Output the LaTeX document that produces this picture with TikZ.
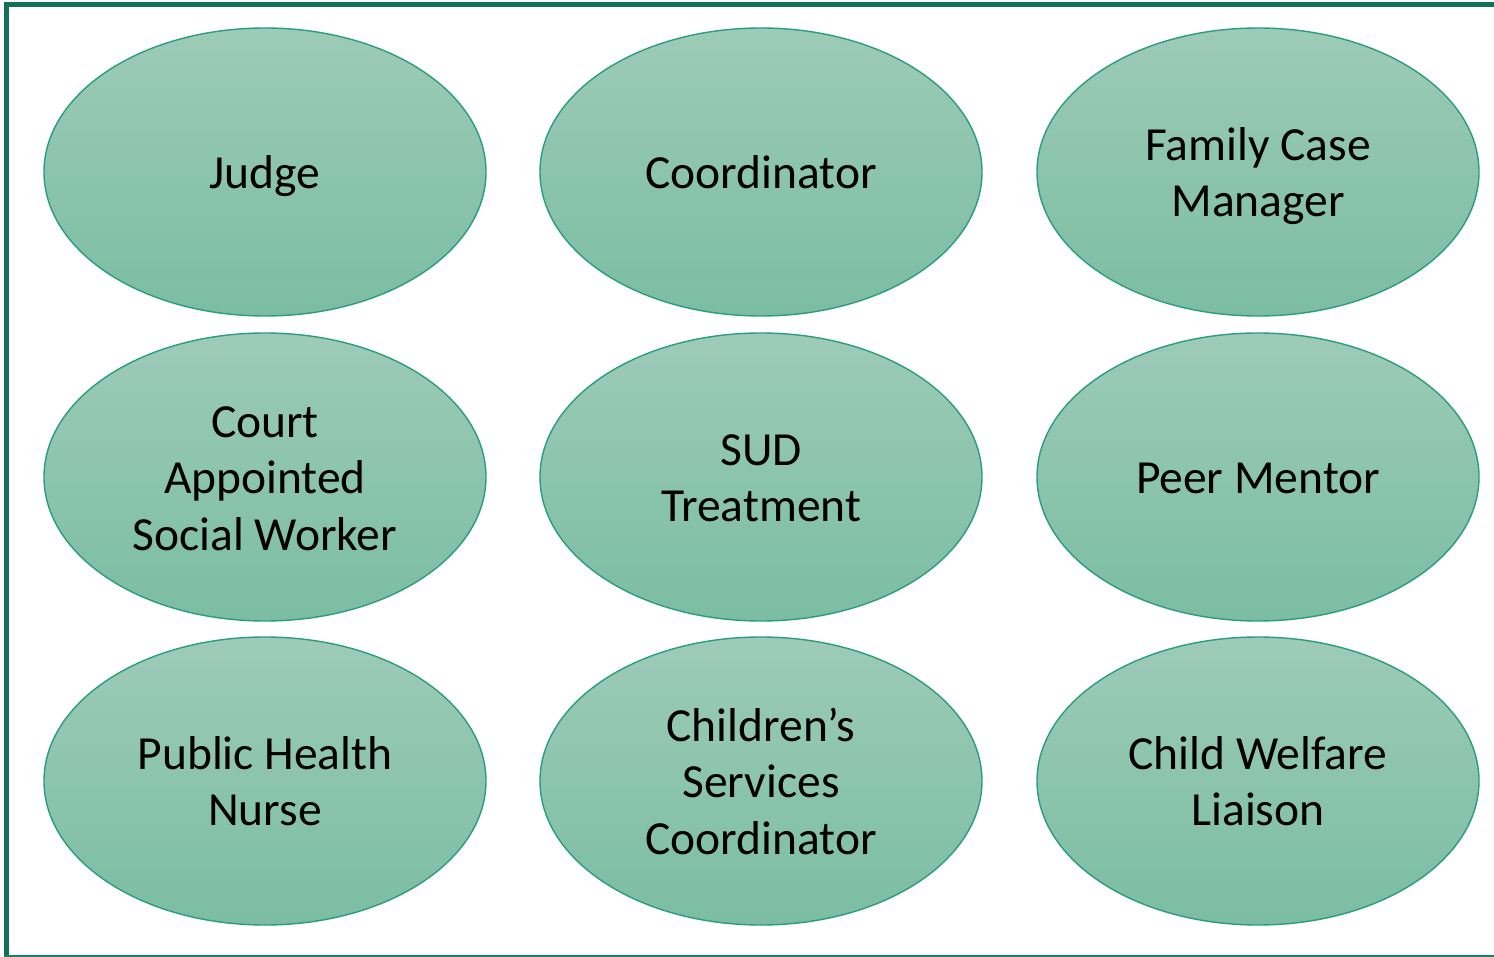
\documentclass[tikz,border=0pt]{standalone}
\usepackage{fontspec}
\setmainfont{Carlito}
\usetikzlibrary{shapes.geometric}
\definecolor{framegreen}{HTML}{137157}
\definecolor{edgegreen}{HTML}{2A9D7C}
\definecolor{toplight}{HTML}{9DCBB8}
\definecolor{bottomdark}{HTML}{7BBDA3}
% strut so every line box is as tall as the slide's
\newcommand{\ls}{\rule[-0.2em]{0pt}{1.1em}}
\tikzset{
  role/.style={ellipse, draw=edgegreen, line width=0.7pt,
    top color=toplight, bottom color=bottomdark,
    minimum width=221pt, minimum height=144pt, inner sep=0pt,
    align=center, font=\fontsize{23.75}{28.25}\selectfont},
}
\begin{document}
\begin{tikzpicture}[x=0.5pt, y=-0.5pt]
  \useasboundingbox (0,0) rectangle (1494,957);

  \draw[framegreen, line width=2.5pt] (6.5,957) -- (6.5,4.5) -- (1494,4.5);
  \draw[edgegreen!80!black, line width=1pt] (4,955.5) -- (1494,955.5);

  \node[role] (judge) at (265,172) {\ls Judge\ls};
  \node[role] (coord) at (761,172) {\ls Coordinator\ls};
  \node[role] (fcm) at (1258,172) {\ls Family Case\\Manager\ls};

  \node[role] (casw) at (265,477) {\ls Court\\Appointed\\Social Worker\ls};
  \node[role] (sud) at (761,477) {\ls SUD\\Treatment\ls};
  \node[role] (peer) at (1258,477) {\ls Peer Mentor\ls};

  \node[role] (phn) at (265,781) {\ls Public Health\\Nurse\ls};
  \node[role] (csc) at (761,781) {\ls Children’s\\Services\\Coordinator\ls};
  \node[role] (cwl) at (1258,781) {\ls Child Welfare\\Liaison\ls};
\end{tikzpicture}
\end{document}
